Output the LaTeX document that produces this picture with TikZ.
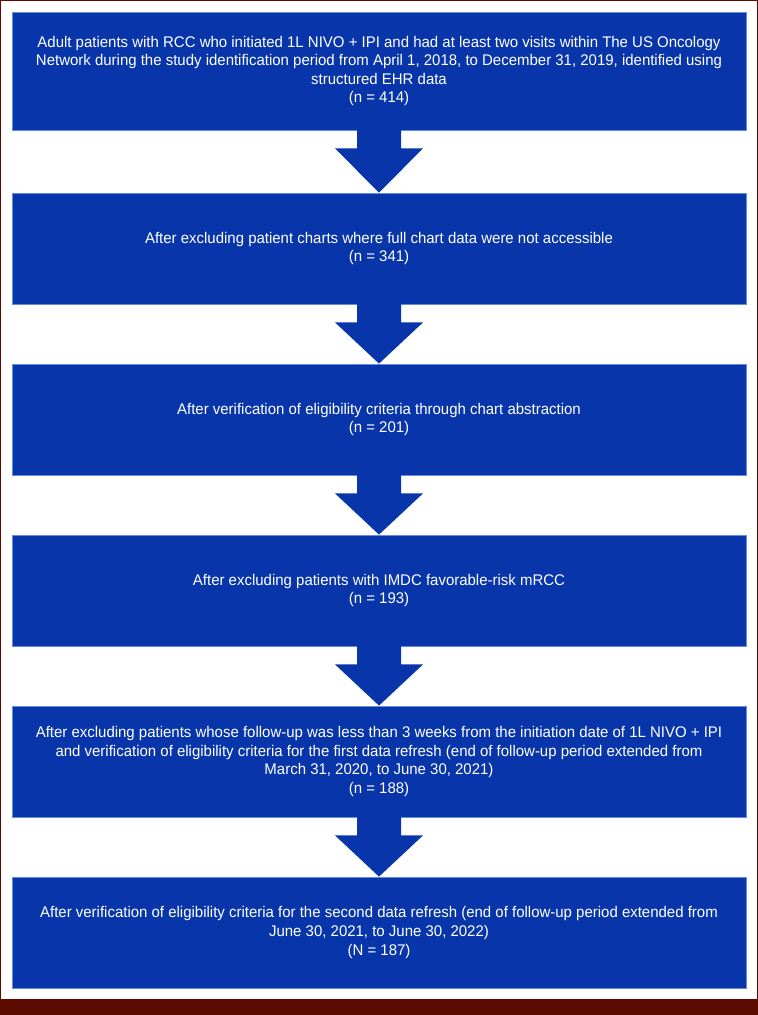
\documentclass[tikz,border=0pt]{standalone}
\usepackage{fontspec}
\setmainfont{Liberation Sans}[FakeStretch=0.97]
\usetikzlibrary{calc}
\definecolor{framered}{RGB}{92,10,0}
\definecolor{boxblue}{RGB}{8,54,170}
\definecolor{boxedge}{RGB}{100,140,220}
\tikzset{
  stepbox/.style={draw=boxedge, line width=0.8bp, fill=boxblue, text=white,
    minimum width=734bp, inner sep=0pt, align=center,
    font=\fontsize{15.5}{18.7}\selectfont},
  flowfill/.style={fill=boxblue}
}
\newcommand\flowarrow[2]{%
  \fill[flowfill] ($(#1.south)+(-22,-1)$) -- ($(#1.south)+(22,-1)$) --
    ($(#1.south)+(22,18)$) -- ($(#1.south)+(44,18)$) -- (#2.north) --
    ($(#1.south)+(-44,18)$) -- ($(#1.south)+(-22,18)$) -- cycle;}
\begin{document}
\begin{tikzpicture}[x=1bp,y=-1bp]
\fill[framered] (0,0) rectangle (758,1015);
\fill[white] (1.3,1.3) rectangle (756.7,999);
\useasboundingbox (0,0) rectangle (758,1015);
\node[stepbox, minimum height=118bp] (b1) at (379,71) {Adult patients with RCC who initiated 1L NIVO + IPI and had at least two visits within The US Oncology\\Network during the study identification period from April 1, 2018, to December 31, 2019, identified using\\structured EHR data\\(n = 414)};
\node[stepbox, minimum height=111bp] (b2) at (379,248.5) {After excluding patient charts where full chart data were not accessible\\(n = 341)};
\node[stepbox, minimum height=111bp] (b3) at (379,419.5) {After verification of eligibility criteria through chart abstraction\\(n = 201)};
\node[stepbox, minimum height=111bp] (b4) at (379,590.5) {After excluding patients with IMDC favorable-risk mRCC\\(n = 193)};
\node[stepbox, minimum height=111bp] (b5) at (379,761.5) {After excluding patients whose follow-up was less than 3 weeks from the initiation date of 1L NIVO + IPI\\and verification of eligibility criteria for the first data refresh (end of follow-up period extended from\\March 31, 2020, to June 30, 2021)\\(n = 188)};
\node[stepbox, minimum height=111bp] (b6) at (379,932.5) {After verification of eligibility criteria for the second data refresh (end of follow-up period extended from\\June 30, 2021, to June 30, 2022)\\(N = 187)};
\flowarrow{b1}{b2}
\flowarrow{b2}{b3}
\flowarrow{b3}{b4}
\flowarrow{b4}{b5}
\flowarrow{b5}{b6}
\end{tikzpicture}
\end{document}
